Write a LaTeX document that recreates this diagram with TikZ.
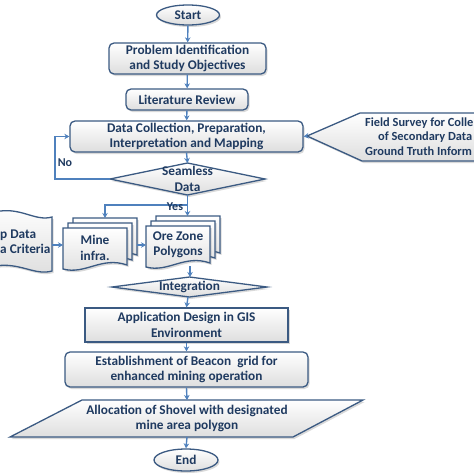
\documentclass[tikz,border=0pt]{standalone}
\usepackage{fontspec}
\setmainfont{Carlito}
\usetikzlibrary{shapes.geometric,arrows.meta,shadows}
\definecolor{bordc}{HTML}{3B5A82}
\definecolor{textc}{HTML}{1F3A60}
\definecolor{arrc}{HTML}{4F81BD}
\tikzset{
  x=1pt,y=-1pt,
  shp/.style={draw=bordc,line width=1.3pt,top color=white,bottom color=black!13,
    drop shadow={opacity=0.3,shadow xshift=1.5pt,shadow yshift=-2pt}},
  lbl/.style={text=textc,font=\bfseries\fontsize{13.3}{15.5}\selectfont,align=center,inner sep=0pt},
  rbox/.style={shp,lbl,rounded corners=5pt},
  sbox/.style={shp,lbl},
  oval/.style={shp,lbl,ellipse},
  conn/.style={draw=arrc,line width=1.4pt,-{Stealth[length=5pt,width=5.5pt]}},
}
\newcommand\docpath[4]{(#1,#2) -- (#3,#2) -- (#3,{#4-4}) .. controls ({#1+0.6*(#3-#1)},{#4-13}) and ({#1+0.35*(#3-#1)},{#4+6}) .. (#1,#4) -- cycle}
\begin{document}
\begin{tikzpicture}
\useasboundingbox (0,0) rectangle (474,474);
\clip (0,0) rectangle (474,474);
% main column
\node[oval,minimum width=63pt,minimum height=20pt] (start) at (188,15) {Start};
\node[rbox,minimum width=157pt,minimum height=31pt] (prob) at (187.5,58.5) {Problem Identification\\and Study Objectives};
\node[rbox,minimum width=122pt,minimum height=21pt] (lit) at (187,99.5) {Literature Review};
\node[rbox,minimum width=233pt,minimum height=31pt] (data) at (186.5,136.5) {Data Collection, Preparation,\\Interpretation and Mapping};
% field survey
\path[shp] (307,136) -- (360,113) -- (480,113) -- (480,161) -- (362,161) -- cycle;
\coordinate (fieldtip) at (307,136);
\node[lbl,anchor=west,align=left,font=\bfseries\fontsize{12.4}{14.5}\selectfont] (field) at (365,136.5) {Field Survey for Colle\\\hspace{13pt}of Secondary Data\\Ground Truth Inform};
% seamless diamond
\path[shp] (110,179) -- (187.5,163) -- (265,179) -- (187.5,195) -- cycle;
\node[lbl] (seam) at (187.5,179) {Seamless\\Data};
\coordinate (seamN) at (187.5,163);
\coordinate (seamS) at (187.5,195);
\coordinate (seamW) at (110,179);
% map data tape
\path[shp] (-5,212) .. controls (20,206) and (35,222) .. (52,217) -- (52,271) .. controls (35,276) and (20,262) .. (-5,266) -- cycle;
\node[lbl,anchor=west,align=left] (map) at (0,241.5) {p Data\\a Criteria};
\coordinate (mapE) at (52,245);
% mine infra multidoc
\path[shp] \docpath{73}{218}{137}{259};
\path[shp] \docpath{68}{223}{132}{264};
\path[shp] \docpath{63}{228}{127}{269};
\node[lbl] (mine) at (95,248) {Mine\\infra.};
\coordinate (mineN) at (105,218);
\coordinate (mineW) at (63,245);
\coordinate (mineE) at (137,245);
% ore zone multidoc
\path[shp] \docpath{156}{216}{220}{257};
\path[shp] \docpath{151}{221}{215}{262};
\path[shp] \docpath{146}{226}{210}{267};
\node[lbl] (ore) at (178,245) {Ore Zone\\Polygons};
\coordinate (oreN) at (187.5,216);
\coordinate (oreW) at (146,245);
\coordinate (oreS) at (190,266);
% integration
\path[shp] (112,287) -- (189.5,277) -- (267,287) -- (189.5,297) -- cycle;
\node[lbl] (integ) at (189.5,287) {Integration};
\coordinate (integN) at (190,277);
\coordinate (integS) at (188,297);
\node[sbox,minimum width=203pt,minimum height=34pt] (app) at (186.5,325) {Application Design in GIS\\Environment};
\node[rbox,minimum width=243pt,minimum height=35pt] (est) at (186.5,369.5) {Establishment of Beacon\ \ grid for\\enhanced mining operation};
% allocation parallelogram
\path[shp] (82,400) -- (363,400) -- (293,437) -- (10,437) -- cycle;
\node[lbl] (alloc) at (187,418.5) {Allocation of Shovel with designated\\mine area polygon};
\coordinate (allocN) at (187,400);
\coordinate (allocS) at (187,437);
\node[oval,minimum width=64pt,minimum height=22pt] (end) at (186,460) {End};
% connectors
\draw[conn] (start) -- (prob);
\draw[conn] (prob) -- (lit);
\draw[conn] (lit) -- (data);
\draw[conn] (data.south) -- (seamN);
\draw[conn] (fieldtip) -- (data.east);
\draw[conn] (seamW) -- (55,179) |- (data.west);
\node[lbl,font=\bfseries\fontsize{12}{13}\selectfont] (no) at (65,163) {No};
\draw[conn] (seamS) -- (oreN);
\coordinate (yesb) at (187.5,205);
\draw[conn] (yesb) -| (mineN);
\node[lbl,font=\bfseries\fontsize{12}{13}\selectfont] (yes) at (175,207) {Yes};
\draw[conn] (mapE) -- (mineW);
\draw[conn] (mineE) -- (oreW);
\draw[conn] (oreS) -- (integN);
\draw[conn] (integS) -- (app.north);
\draw[conn] (app.south) -- (est.north);
\draw[conn] (est.south) -- (allocN);
\draw[conn] (allocS) -- (end.north);
\end{tikzpicture}
\end{document}
